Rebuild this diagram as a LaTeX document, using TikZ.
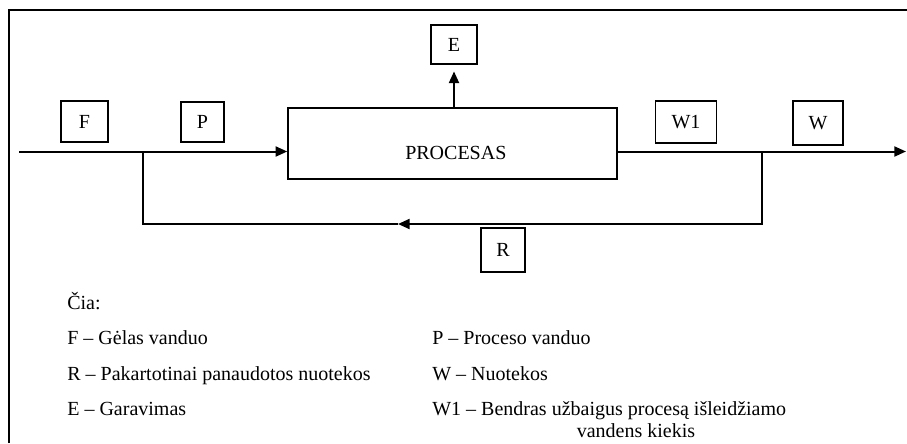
\documentclass[tikz,border=0pt]{standalone}
\usepackage{fontspec}
\setmainfont{Liberation Serif}
\usetikzlibrary{arrows.meta}

\begin{document}
\begin{tikzpicture}[x=0.6pt,y=-0.6pt,
    every node/.style={font=\fontsize{12}{14}\selectfont},
    tag/.style={draw,line width=0.9pt,inner sep=0pt},
    flow/.style={line width=1.2pt},
    tip/.style={-{Triangle[length=7pt,width=6pt]}},
    legend/.style={anchor=base west,inner sep=0pt}]
\useasboundingbox (0,0) rectangle (907,443);

% Frame (cut off on the right and at the bottom)
\draw[line width=1pt] (9,443) -- (9,10) -- (907,10);

% Process block
\node[tag,minimum width=197.4pt,minimum height=42.6pt] (proc) at (452.5,143.5) {};
\node (proctxt) at ([xshift=2pt,yshift=-5.5pt]proc.center) {PROCESAS};

% Small stream boxes: name/text/x/y/width/height (px)
\foreach \name/\txt/\x/\y/\w/\h in {f/F/84.5/121.5/47/41, p/P/202.5/122/43/40,
        e/E/454/44.5/46/39, w1/W1/686/122/61/42, w/W/818/123/50/44, r/R/503/250/44/44}
    \node[tag,minimum width=\w*0.6pt,minimum height=\h*0.6pt] (\name) at (\x,\y) {\txt};

% Stream lines
\coordinate (in) at (19,151.5);
\coordinate (s1) at (143,151.5);
\coordinate (s2) at (762,151.5);
\coordinate (out) at (906,151.5);
\coordinate (rm) at (398,224);

\draw[flow,tip] (in) -- (in -| proc.west);
\draw[flow,tip] (proc.east |- out) -- (out);
\draw[flow,tip] (s2) |- (rm);   % recycled water
\draw[flow] (s1) |- (rm);
\draw[flow,tip,shorten >=4pt] (proc.north -| e) -- (e.south);

% Legend
\node[legend] (cia) at (67,309) {Čia:};
\foreach \name/\txt/\x/\y in {lf/{F – Gėlas vanduo}/67/344, lr/{R – Pakartotinai panaudotos nuotekos}/67/380,
        le/{E – Garavimas}/67/415, lp/{P – Proceso vanduo}/432/344, lw/{W – Nuotekos}/432/380,
        lw1/{W1 – Bendras užbaigus procesą išleidžiamo}/432/415}
    \node[legend] (\name) at (\x,\y) {\txt};
\node[anchor=base,inner sep=0pt] (lw1b) at (636,437) {vandens kiekis};
\end{tikzpicture}
\end{document}
